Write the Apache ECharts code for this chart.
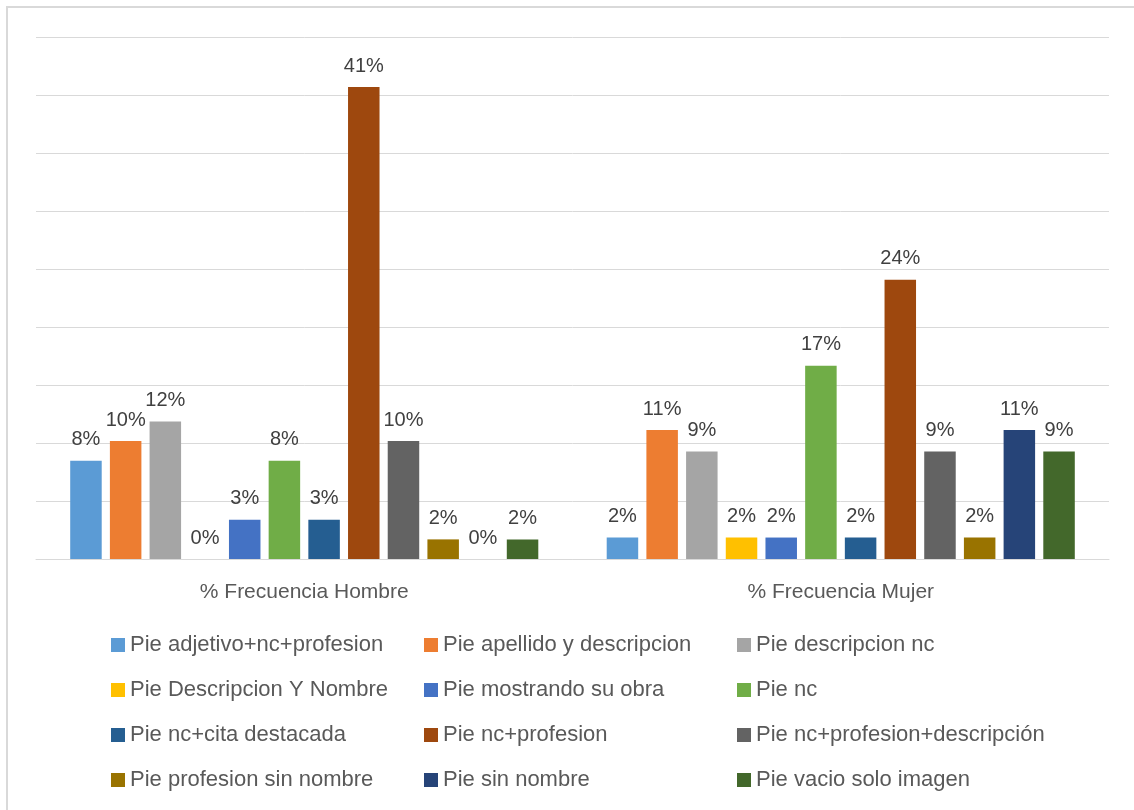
<!DOCTYPE html>
<html>
<head>
<meta charset="utf-8">
<script src="https://cdn.jsdelivr.net/npm/echarts@6/dist/echarts.min.js"></script>
<style>
html,body{margin:0;padding:0;background:#fff;}
#chart{width:1134px;height:810px;}
</style>
</head>
<body>
<div id="chart"></div>
<script>
const categories = ['% Frecuencia Hombre', '% Frecuencia Mujer'];
const seriesNames = [
  'Pie adjetivo+nc+profesion', 'Pie apellido y descripcion', 'Pie descripcion nc',
  'Pie Descripcion Y Nombre', 'Pie mostrando su obra', 'Pie nc',
  'Pie nc+cita destacada', 'Pie nc+profesion', 'Pie nc+profesion+descripción',
  'Pie profesion sin nombre', 'Pie sin nombre', 'Pie vacio solo imagen'
];
const hombre = [8.47, 10.17, 11.86, 0, 3.39, 8.47, 3.39, 40.68, 10.17, 1.69, 0, 1.69];
const mujer  = [1.85, 11.11, 9.26, 1.85, 1.85, 16.67, 1.85, 24.07, 9.26, 1.85, 11.11, 9.26];
const colors = ['#5B9BD5', '#ED7D31', '#A5A5A5', '#FFC000', '#4472C4', '#70AD47',
                '#255E91', '#9E480E', '#636363', '#997300', '#264478', '#43682B'];
const yTicks = [0, 45, 5];

const FONT = 'Liberation Sans';
const chart = echarts.init(document.getElementById('chart'));

const series = seriesNames.map((name, i) => ({
  name: name,
  type: 'bar',
  data: [hombre[i], mujer[i]],
  itemStyle: { color: colors[i] },
  barWidth: 31.5,
  barGap: '26%',
  label: {
    show: true,
    position: 'top',
    distance: 11,
    color: '#404040',
    fontFamily: FONT,
    fontSize: 20,
    formatter: p => Math.round(p.value) + '%'
  }
}));

const legends = [0, 1, 2, 3].map(r => ({
  data: seriesNames.slice(r * 3, r * 3 + 3),
  orient: 'horizontal',
  left: 111,
  top: 633 + r * 45,
  padding: 0,
  itemWidth: 14,
  itemHeight: 14,
  itemGap: 10,
  icon: 'rect',
  selectedMode: false,
  textStyle: {
    color: '#595959',
    fontFamily: FONT,
    fontSize: 22,
    lineHeight: 24,
    width: 284,
    overflow: 'none'
  }
}));

chart.setOption({
  animation: false,
  color: colors,
  grid: { left: 36, right: 25, top: 37, bottom: 251, containLabel: false },
  graphic: [{
    type: 'rect',
    shape: { x: 7, y: 7, width: 1200, height: 900 },
    style: { fill: 'none', stroke: '#d9d9d9', lineWidth: 2 },
    silent: true
  }],
  legend: legends,
  xAxis: {
    type: 'category',
    data: categories,
    axisTick: { show: false },
    axisLine: { lineStyle: { color: '#d9d9d9', width: 1 } },
    axisLabel: { color: '#595959', fontFamily: FONT, fontSize: 21, margin: 23 }
  },
  yAxis: {
    type: 'value',
    min: yTicks[0],
    max: yTicks[1],
    interval: yTicks[2],
    axisLabel: { show: false },
    axisLine: { show: false },
    axisTick: { show: false },
    splitLine: { lineStyle: { color: '#d9d9d9', width: 1 } }
  },
  series: series
});
</script>
</body>
</html>
